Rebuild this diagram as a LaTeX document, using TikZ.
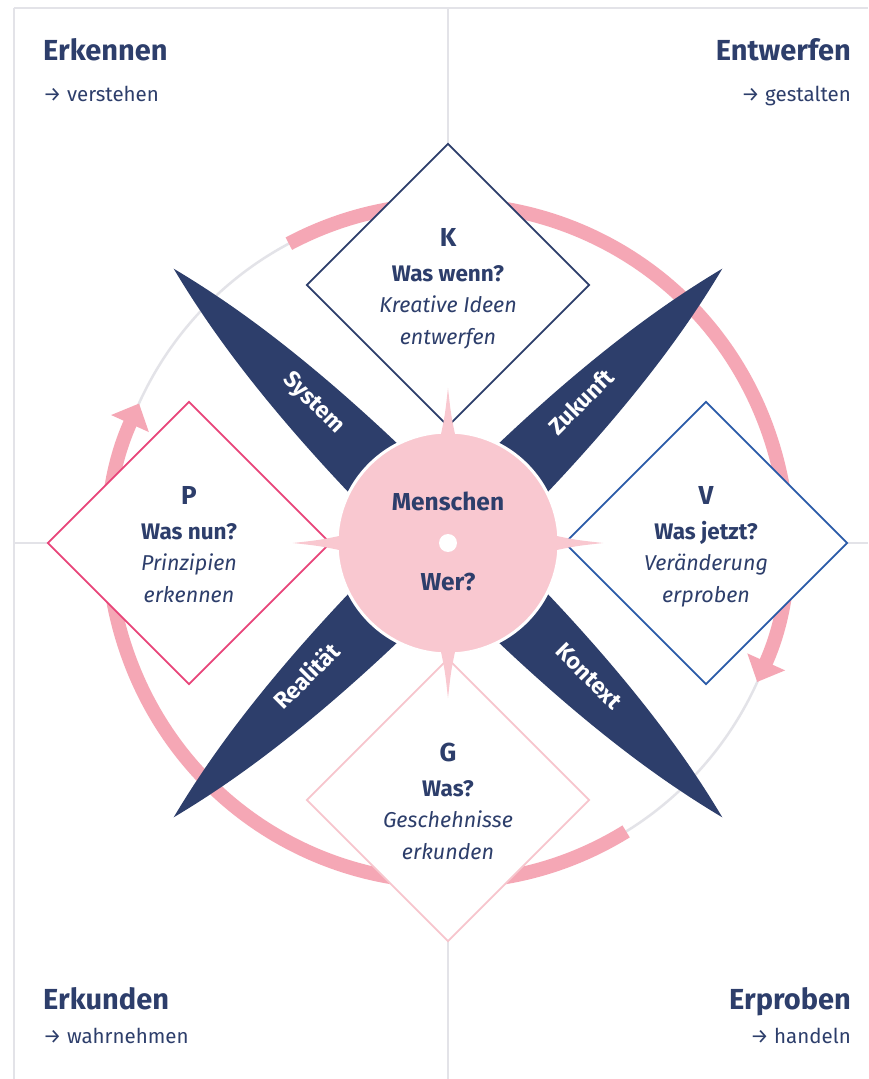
\documentclass[tikz,border=0pt]{standalone}
\usepackage{fontspec}
\setmainfont{Fira Sans}
\usetikzlibrary{arrows.meta,shapes.geometric}

\definecolor{navy}{HTML}{2D3E6B}
\definecolor{ringpink}{HTML}{F5A7B5}
\definecolor{hubpink}{HTML}{F9C8D0}
\definecolor{framegray}{HTML}{E3E3E8}
\definecolor{pline}{HTML}{E8457A}
\definecolor{vline}{HTML}{2B5BA8}
\definecolor{gline}{HTML}{F7C5CD}

\tikzset{
  frameline/.style={draw=framegray, line width=2.5pt},
  ring/.style={draw=ringpink, line width=14pt, -{Triangle[length=22pt,width=40pt]}},
  card/.style={diamond, fill=white, line width=1.8pt, minimum width=283pt, minimum height=283pt, inner sep=0pt},
  blade/.style={fill=navy},
  txt/.style={text=navy, inner sep=0pt, text height=0.7em, text depth=0.2em},
  headline/.style={txt, font=\bfseries\fontsize{29}{33}\selectfont},
  subline/.style={txt, font=\fontsize{20.5}{24}\selectfont},
  letter/.style={txt, font=\bfseries\fontsize{26}{30}\selectfont},
  question/.style={txt, font=\bfseries\fontsize{22.5}{26}\selectfont},
  aim/.style={txt, font=\itshape\fontsize{21.5}{25}\selectfont},
  bladelabel/.style={txt, text=white, font=\bfseries\fontsize{23}{27}\selectfont},
  hubtext/.style={txt, font=\bfseries\fontsize{24.5}{28}\selectfont},
}

% text of one card: name, letter, question, two lines
\newcommand{\cardtext}[5]{%
  \node[letter]   (#1-let) at ([yshift=41pt]#1.center) {#2};
  \node[question] (#1-q)   at ([yshift=6pt]#1.center) {#3};
  \node[aim]      (#1-a)   at ([yshift=-25pt]#1.center) {#4};
  \node[aim]      (#1-b)   at ([yshift=-57pt]#1.center) {#5};
}
% one blade along angle #1
\newcommand{\bladeat}[1]{%
  \fill[blade, rotate=#1] (85,-35) .. controls (250,-32) and (340,-12) .. (388,0)
    .. controls (340,12) and (250,32) .. (85,35) -- cycle;
}

\begin{document}
\begin{tikzpicture}[x=1pt,y=1pt]
\useasboundingbox (-448,-536) rectangle (420,543);
\fill[white] (-448,-536) rectangle (420,543);

% frame
\draw[frameline] (-434,535) -- (420,535);
\draw[frameline] (-434,535) -- (-434,-536);
\draw[frameline] (0,535) -- (0,-536);
\draw[frameline] (-434,0) -- (420,0);

% corner labels
\node[headline, anchor=west] (erkennen) at (-405,485) {Erkennen};
\node[subline, anchor=west] (verstehen) at (-405,444) {→ verstehen};
\node[headline, anchor=east] (entwerfen) at (403,485) {Entwerfen};
\node[subline, anchor=east] (gestalten) at (403,444) {→ gestalten};
\node[headline, anchor=west] (erkunden) at (-405,-464) {Erkunden};
\node[subline, anchor=west] (wahrnehmen) at (-405,-498) {→ wahrnehmen};
\node[headline, anchor=east] (erproben) at (403,-464) {Erproben};
\node[subline, anchor=east] (handeln) at (403,-498) {→ handeln};

% ring
\draw[framegray, line width=2.5pt] (0,0) circle (339);
\draw[ring] (118:339) arc[start angle=118, end angle=-24.2, radius=339];
\draw[ring] (-58.3:339) arc[start angle=-58.3, end angle=-204.3, radius=339];

% blades
\bladeat{135}
\bladeat{45}
\bladeat{225}
\bladeat{-45}

% cards
\node[card, draw=navy]  (K) at (0,258) {};
\node[card, draw=pline] (P) at (-259,0) {};
\node[card, draw=vline] (V) at (258,0) {};
\node[card, draw=gline] (G) at (0,-257) {};

% hub
\node[circle, fill=hubpink, draw=white, line width=3pt, minimum size=222pt, inner sep=0pt] (hub) at (0,0) {};
\foreach \a in {0,90,180,270}
  \fill[hubpink, rotate=\a] (104,-8) .. controls (128,-3) .. (155,0) .. controls (128,3) .. (104,8) -- cycle;
\node[circle, fill=white, minimum size=18pt, inner sep=0pt] (dot) at (hub.center) {};
\node[hubtext] (menschen) at (0,35) {Menschen};
\node[hubtext] (wer) at (0,-45) {Wer?};

% card texts
\cardtext{K}{K}{Was wenn?}{Kreative Ideen}{entwerfen}
\cardtext{P}{P}{Was nun?}{Prinzipien}{erkennen}
\cardtext{V}{V}{Was jetzt?}{Veränderung}{erproben}
\cardtext{G}{G}{Was?}{Geschehnisse}{erkunden}

% blade labels
\node[bladelabel, rotate=-45] (system) at (135:194) {System};
\node[bladelabel, rotate=45] (zukunft) at (45:194) {Zukunft};
\node[bladelabel, rotate=45] (realitaet) at (225:194) {Realität};
\node[bladelabel, rotate=-45] (kontext) at (-45:194) {Kontext};
\end{tikzpicture}
\end{document}
